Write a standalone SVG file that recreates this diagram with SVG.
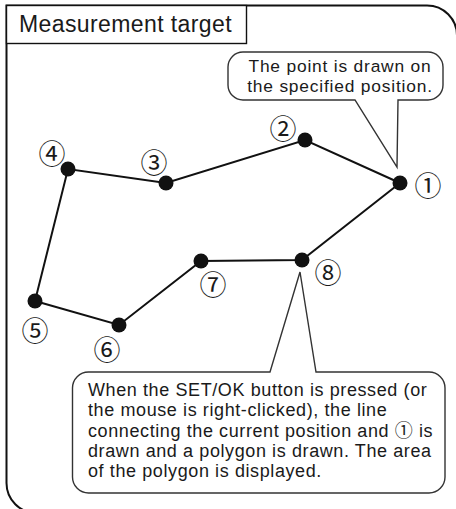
<svg xmlns="http://www.w3.org/2000/svg" width="456" height="509" viewBox="0 0 456 509">
  <style>
    .frame { fill: none; stroke: #111; stroke-width: 2; }
    .title-box { fill: #fff; stroke: #111; stroke-width: 1.4; }
    .title { font-family: "Liberation Sans", Arial, sans-serif; font-size: 23px; letter-spacing: 0.4px; fill: #1a1a1a; }
    .bubble { fill: #fff; stroke: #333; stroke-width: 1.4; stroke-linejoin: miter; }
    .txt { font-family: "Liberation Sans", "Noto Sans CJK JP", sans-serif; font-size: 18px; letter-spacing: 0.6px; fill: #1a1a1a; }
    .txt-s { font-family: "Liberation Sans", "Noto Sans CJK JP", sans-serif; font-size: 17.4px; letter-spacing: 0.8px; fill: #1a1a1a; text-anchor: middle; }
    .edge { stroke: #111; stroke-width: 2; fill: none; }
    .dot { fill: #111; }
    .num { font-family: "Noto Sans CJK JP", sans-serif; font-size: 27px; fill: #1a1a1a; text-anchor: middle; dominant-baseline: central; }
  </style>

  <g id="frame">
    <path class="frame" d="M6.5,5.5 H427 A30,30 0 0 1 457,35.5 V513 H36.5 A30,30 0 0 1 6.5,483 Z"/>
  </g>

  <g id="title">
    <rect class="title-box" x="6.5" y="5.5" width="240" height="38"/>
    <text class="title" x="19" y="32">Measurement target</text>
  </g>

  <g id="connectors">
    <polyline class="edge" points="400,183 305,140 166,183 68,169 35,301 119,325 201,261 302,260 400,183"/>
  </g>

  <g id="p1"><circle class="dot" cx="400" cy="183" r="7.5"/><text class="num" x="428" y="184">①</text></g>
  <g id="p2"><circle class="dot" cx="305" cy="140" r="7.5"/><text class="num" x="283" y="127">②</text></g>
  <g id="p3"><circle class="dot" cx="166" cy="183" r="7.5"/><text class="num" x="154" y="161">③</text></g>
  <g id="p4"><circle class="dot" cx="68" cy="169" r="7.5"/><text class="num" x="52" y="152">④</text></g>
  <g id="p5"><circle class="dot" cx="35" cy="301" r="7.5"/><text class="num" x="35" y="329">⑤</text></g>
  <g id="p6"><circle class="dot" cx="119" cy="325" r="7.5"/><text class="num" x="107" y="348">⑥</text></g>
  <g id="p7"><circle class="dot" cx="201" cy="261" r="7.5"/><text class="num" x="213" y="283">⑦</text></g>
  <g id="p8"><circle class="dot" cx="302" cy="260" r="7.5"/><text class="num" x="328" y="271">⑧</text></g>

  <g id="callout-point">
    <path class="bubble" d="M243,52 H428 A15,15 0 0 1 443,67 V85 A15,15 0 0 1 428,100 H398 L397,167 L355,100 H243 A15,15 0 0 1 228,85 V67 A15,15 0 0 1 243,52 Z"/>
    <text class="txt-s" x="340" y="72">The point is drawn on</text>
    <text class="txt-s" x="340" y="91.5">the specified position.</text>
  </g>

  <g id="callout-close">
    <path class="bubble" d="M88.5,372 H270 L300,272 L316,372 H429 A16,16 0 0 1 445,388 V477 A16,16 0 0 1 429,493 H88.5 A16,16 0 0 1 72.5,477 V388 A16,16 0 0 1 88.5,372 Z"/>
    <text class="txt" x="88" y="396">When the SET/OK button is pressed (or</text>
    <text class="txt" x="88" y="416">the mouse is right-clicked), the line</text>
    <text class="txt" x="88" y="436.5">connecting the current position and ① is</text>
    <text class="txt" x="88" y="456.5">drawn and a polygon is drawn. The area</text>
    <text class="txt" x="88" y="477">of the polygon is displayed.</text>
  </g>
</svg>
